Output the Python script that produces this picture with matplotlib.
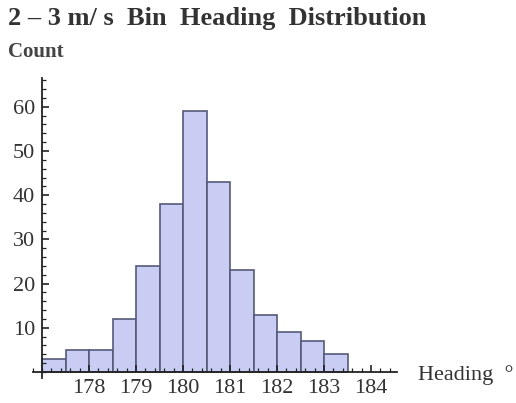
import matplotlib.pyplot as plt
import numpy as np
from matplotlib.ticker import MultipleLocator

# Histogram of heading values (0.5 degree bins)
bin_left = [177.0, 177.5, 178.0, 178.5, 179.0, 179.5, 180.0, 180.5, 181.0, 181.5, 182.0, 182.5, 183.0]
counts = [3, 5, 5, 12, 24, 38, 59, 43, 23, 13, 9, 7, 4]
bin_width = 0.5
x_ticks = [178, 179, 180, 181, 182, 183, 184]
y_ticks = [10, 20, 30, 40, 50, 60]

plt.rcParams['font.family'] = ['Liberation Serif', 'DejaVu Serif']

px_x = 47.0   # pixels per degree
px_y = 4.42   # pixels per count
x0, x1 = 176.8, 184.55
y0, y1 = -1.3, 66.5

fig = plt.figure(figsize=(5.16, 4.03), dpi=100)
left = 42 - (177 - x0) * px_x
bottom = 403 - 372 + y0 * px_y
ax = fig.add_axes([left / 516, bottom / 403,
                   (x1 - x0) * px_x / 516, (y1 - y0) * px_y / 403])

ax.bar(bin_left, counts, width=bin_width, align='edge',
       color='#c9cdf3', edgecolor='#555a7a', linewidth=1.2)

ax.set_xlim(x0, x1)
ax.set_ylim(y0, y1)

for s in ['top', 'right']:
    ax.spines[s].set_visible(False)
ax.spines['left'].set_position(('data', 177))
ax.spines['bottom'].set_position(('data', 0))
for s in ['left', 'bottom']:
    ax.spines[s].set_linewidth(1.3)
    ax.spines[s].set_color('#222222')

ax.set_xticks(x_ticks)
ax.set_yticks(y_ticks)
ax.xaxis.set_minor_locator(MultipleLocator(0.2))
ax.yaxis.set_minor_locator(MultipleLocator(2))
ax.tick_params(which='major', direction='in', length=5, width=1.2, colors='#222222',
               labelsize=16, labelcolor='#333333', pad=5)
ax.tick_params(which='minor', direction='in', length=3, width=0.9, colors='#222222')

fig.text(8 / 516, 1 - 19 / 403, '2 – 3 m/ s  Bin  Heading  Distribution',
         fontsize=19, fontweight='bold', color='#333333', va='center', ha='left')
fig.text(8 / 516, 1 - 52 / 403, 'Count', fontsize=15, fontweight='bold',
         color='#444444', va='center', ha='left')
fig.text(418 / 516, 1 - 375 / 403, 'Heading  °', fontsize=16,
         color='#333333', va='center', ha='left')

fig.savefig('out.png', dpi=100)
